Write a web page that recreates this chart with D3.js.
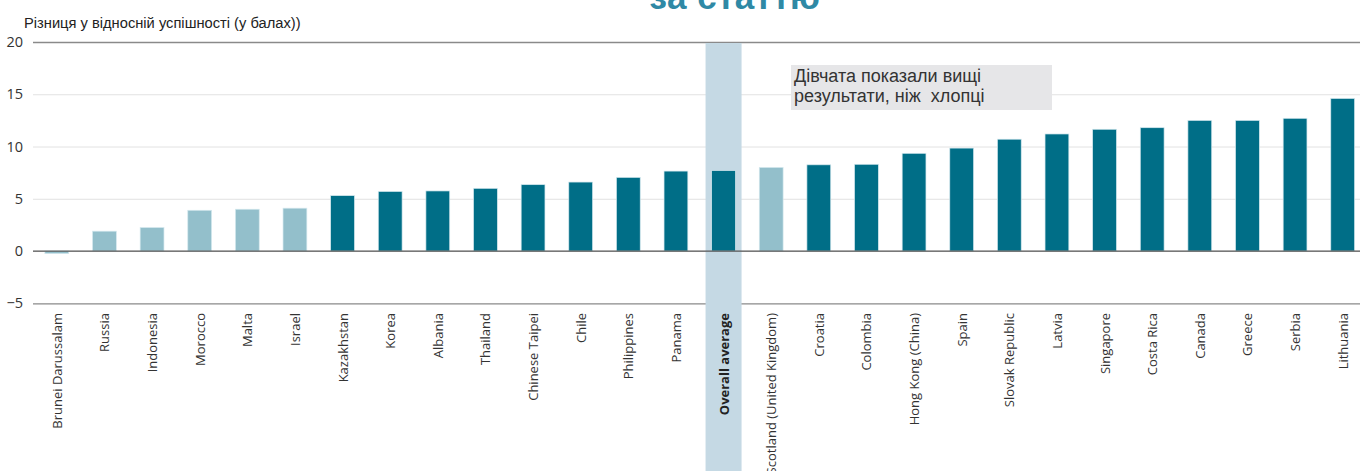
<!DOCTYPE html>
<html>
<head>
<meta charset="utf-8">
<script src="https://cdn.jsdelivr.net/npm/d3@7"></script>
<style>
    body { margin: 0; background: #fff; }
    svg { display: block; }
</style>
</head>
<body>
<div id="chart"></div>
<script>
// Countries, in the order they appear on the chart
var countries = ["Brunei Darussalam", "Russia", "Indonesia", "Morocco", "Malta", "Israel",
    "Kazakhstan", "Korea", "Albania", "Thailand", "Chinese Taipei", "Chile", "Philippines",
    "Panama", "Overall average", "Scotland (United Kingdom)", "Croatia", "Colombia",
    "Hong Kong (China)", "Spain", "Slovak Republic", "Latvia", "Singapore", "Costa Rica",
    "Canada", "Greece", "Serbia", "Lithuania"];

// Girls minus boys, score points
var differences = [-0.25, 1.9, 2.25, 3.9, 4.0, 4.1,
    5.3, 5.7, 5.75, 6.0, 6.35, 6.6, 7.05,
    7.65, 7.7, 8.0, 8.25, 8.3,
    9.35, 9.85, 10.7, 11.2, 11.65, 11.8,
    12.5, 12.5, 12.7, 14.6];

// Differences that are not statistically significant (lighter bars)
var notSignificant = ["Brunei Darussalam", "Russia", "Indonesia", "Morocco", "Malta", "Israel",
    "Scotland (United Kingdom)"];

var averageLabel = "Overall average";
var yTicks = [-5, 0, 5, 10, 15, 20];

var w = 1360;
var h = 471;

var dataset = countries.map(function(c, i) {
    return { country: c, value: differences[i] };
});

var svg = d3.select("#chart")
    .append("svg")
    .attr("width", w)
    .attr("height", h);

var xScale = d3.scaleBand()
    .domain(countries)
    .range([33, 1366.5])
    .paddingInner(0.5)
    .paddingOuter(0.25);

var yScale = d3.scaleLinear()
    .domain([-5, 20])
    .range([303.3, 42]);

// title, cut off at the top edge as in the source image
svg.append("text")
    .attr("x", 735)
    .attr("y", 9)
    .attr("text-anchor", "middle")
    .style("font-family", "'Liberation Sans', Arial, sans-serif")
    .style("font-weight", "bold")
    .style("font-size", "35px")
    .style("letter-spacing", "0.5px")
    .attr("fill", "#2f89a5")
    .text("за статтю");

// axis title
svg.append("text")
    .attr("x", 24)
    .attr("y", 28)
    .style("font-family", "'Liberation Sans', Arial, sans-serif")
    .style("font-size", "14.7px")
    .attr("fill", "#222")
    .text("Різниця у відносній успішності (у балах))");

// gridlines + tick labels
var yAxis = d3.axisLeft(yScale)
    .tickValues(yTicks)
    .tickSizeInner(-(w - 33))
    .tickSizeOuter(0)
    .tickPadding(10)
    .tickFormat(d3.format("d"));

var gy = svg.append("g")
    .attr("transform", "translate(33,0)")
    .call(yAxis);

gy.select(".domain").remove();
gy.selectAll(".tick line")
    .attr("stroke", function(d) { return (d === 20 || d === -5) ? "#8a8a8a" : "#e2e2e2"; })
    .attr("stroke-width", function(d) { return (d === 20 || d === -5) ? 1.3 : 1; });
gy.selectAll(".tick text")
    .style("font-family", "'Open Sans', sans-serif")
    .style("font-size", "14.5px")
    .attr("fill", "#333");

// highlight band for the overall average
svg.append("rect")
    .attr("x", xScale(averageLabel) + xScale.bandwidth() / 2 - 18)
    .attr("y", yScale(20) + 1)
    .attr("width", 36)
    .attr("height", h - yScale(20))
    .attr("fill", "#c5d9e4");

// bars
svg.selectAll(".bar")
    .data(dataset)
    .enter()
    .append("rect")
    .attr("class", "bar")
    .attr("x", function(d) { return xScale(d.country); })
    .attr("y", function(d) { return yScale(Math.max(0, d.value)); })
    .attr("width", xScale.bandwidth())
    .attr("height", function(d) { return Math.abs(yScale(d.value) - yScale(0)); })
    .attr("fill", function(d) { return notSignificant.indexOf(d.country) >= 0 ? "#93bfcb" : "#006e87"; })
    .attr("stroke", "#d4e8ee")
    .attr("stroke-width", 0.7);

// zero line
svg.append("line")
    .attr("x1", 33)
    .attr("x2", w)
    .attr("y1", yScale(0))
    .attr("y2", yScale(0))
    .attr("stroke", "#555")
    .attr("stroke-width", 1.2);

// rotated category labels
svg.selectAll(".xlabel")
    .data(countries)
    .enter()
    .append("text")
    .attr("class", "xlabel")
    .attr("transform", function(d) {
        return "translate(" + (xScale(d) + xScale.bandwidth() / 2 + 5) + ",313) rotate(-90)";
    })
    .attr("text-anchor", "end")
    .style("font-family", "'Open Sans', sans-serif")
    .style("font-size", "13px")
    .style("font-weight", function(d) { return d === averageLabel ? "bold" : "normal"; })
    .attr("fill", function(d) { return d === averageLabel ? "#222" : "#333"; })
    .text(function(d) { return d; });

// annotation box
svg.append("rect")
    .attr("x", 791)
    .attr("y", 65)
    .attr("width", 261)
    .attr("height", 45)
    .attr("fill", "#e6e6e8");

var note = svg.append("text")
    .style("font-family", "'Liberation Sans', Arial, sans-serif")
    .style("font-size", "18px")
    .style("white-space", "pre")
    .attr("fill", "#333");
note.append("tspan").attr("x", 794).attr("y", 82).text("Дівчата показали вищі");
note.append("tspan").attr("x", 794).attr("y", 102).text("результати, ніж  хлопці");
</script>
</body>
</html>
